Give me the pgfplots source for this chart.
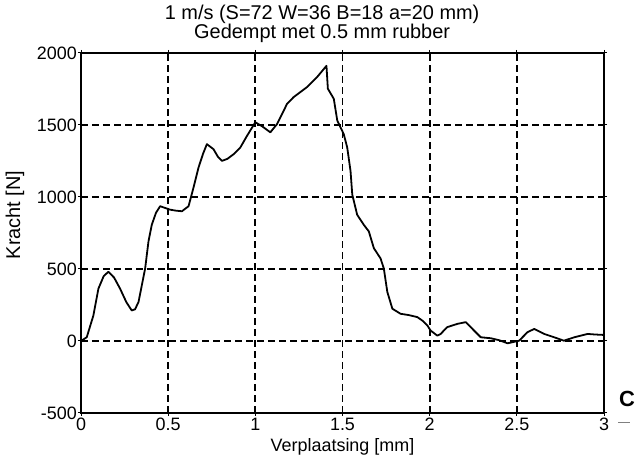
\documentclass[border=0pt]{standalone}
\usepackage{fontspec}
\setmainfont{Liberation Sans}
\usepackage{pgfplots}
\pgfplotsset{compat=1.18}
\begin{document}
\begin{tikzpicture}[x=1bp,y=1bp]
\path[use as bounding box] (-81,-54) rectangle (557,413);
\begin{axis}[
  at={(0,0)}, anchor=south west,
  scale only axis, width=523bp, height=360bp,
  xmin=0, xmax=3, ymin=-500, ymax=2000,
  xtick={0,0.5,...,3}, ytick={-500,0,500,1000,1500,2000},
  xticklabels={0,0.5,1,1.5,2,2.5,3},
  /pgf/number format/assume math mode=true,
  /pgf/number format/1000 sep={},
  tick align=outside, major tick length=3bp,
  tick style={line width=1pt, black},
  ticklabel style={font=\fontsize{18}{18}\selectfont},
  yticklabel style={inner sep=1pt},
  xticklabel style={inner sep=2pt},
  axis line style={line width=2pt},
  grid=major,
  major grid style={line width=1.8pt, black, dash pattern=on 7bp off 4bp},
  title={1 m/s (S=72 W=36 B=18 a=20 mm)\\Gedempt met 0.5 mm rubber},
  title style={font=\fontsize{20}{15}\selectfont, align=center, inner sep=0pt,
    at={(axis description cs:0.461,1.011)}, anchor=south},
  xlabel={Verplaatsing [mm]},
  xlabel style={font=\fontsize{18}{18}\selectfont, at={(axis description cs:0.5,-0.094)}, anchor=center},
  ylabel={Kracht [N]},
  ylabel style={font=\fontsize{20}{20}\selectfont, at={(axis description cs:-0.126,0.55)}, anchor=center, rotate=0},
]
\addplot[black, line width=1.8pt, line join=round] coordinates {
(0,0) (0.033,26) (0.071,177) (0.10,364) (0.13,450) (0.157,481) (0.19,440)
(0.224,364) (0.26,270) (0.291,212) (0.31,220) (0.33,271) (0.368,504)
(0.387,691) (0.406,807) (0.43,890) (0.454,936) (0.48,925) (0.511,912)
(0.545,905) (0.579,901) (0.617,936) (0.645,1064) (0.674,1204) (0.70,1300)
(0.722,1367) (0.76,1332) (0.785,1280) (0.809,1251) (0.84,1265) (0.875,1297)
(0.914,1344) (0.95,1420) (1.0,1519) (1.04,1490) (1.086,1449) (1.125,1507)
(1.182,1647) (1.22,1694) (1.26,1730) (1.297,1764) (1.355,1834) (1.408,1911)
(1.416,1752) (1.45,1682) (1.47,1531) (1.507,1437) (1.527,1344) (1.546,1181)
(1.556,1017) (1.584,877) (1.622,807) (1.651,761) (1.68,644) (1.718,574)
(1.737,504) (1.757,341) (1.786,224) (1.833,189) (1.88,180) (1.929,166)
(1.96,140) (1.987,107) (2.006,72) (2.044,37) (2.063,49) (2.10,96)
(2.159,119) (2.207,131) (2.255,72) (2.293,26) (2.351,19) (2.40,5)
(2.447,-16) (2.513,2) (2.561,61) (2.60,84) (2.657,49) (2.714,26)
(2.77,2) (2.83,26) (2.906,49) (2.95,45) (3.0,42)
};
\end{axis}
\node[font=\fontsize{22}{22}\selectfont\bfseries] at (546,14) {C};
\draw[line width=0.8pt, gray] (537,-9) -- (549,-9);
\end{tikzpicture}
\end{document}
